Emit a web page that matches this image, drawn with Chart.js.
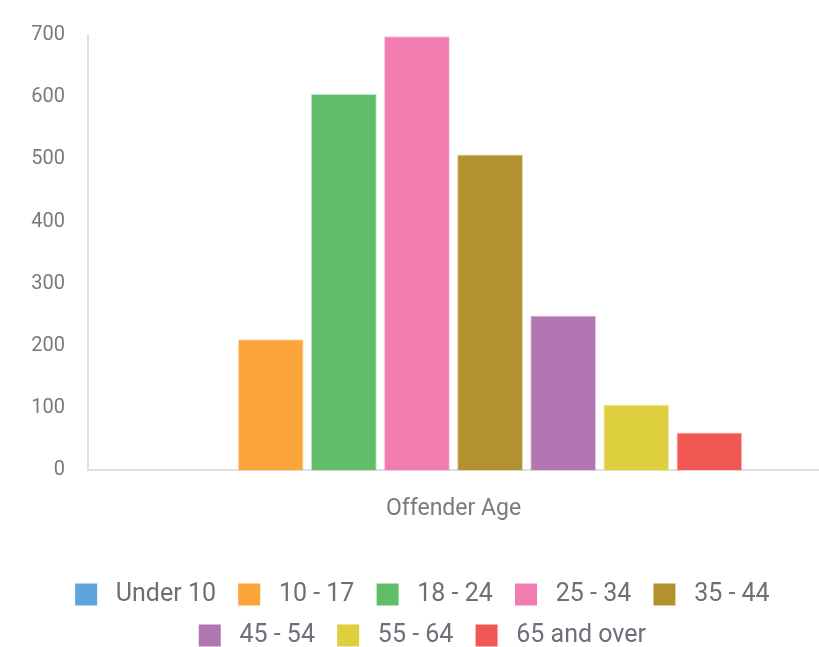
<!DOCTYPE html>
<html lang="en">
<head>
  <meta charset="UTF-8">
  <title>Offender Age</title>
  <script src="https://cdn.jsdelivr.net/npm/chart.js"></script>
  <style>
    html, body { margin: 0; padding: 0; background: #fff; }
    #wrap { width: 819px; height: 647px; }
  </style>
</head>
<body>
  <div id="wrap"><canvas id="ageChart"></canvas></div>
  <script>
    const categories = ["Offender Age"];
    const ageGroups = ["Under 10", "10 - 17", "18 - 24", "25 - 34", "35 - 44", "45 - 54", "55 - 64", "65 and over"];
    const counts = [0, 211, 605, 698, 508, 249, 106, 61];
    const colors = ["#5DA5DA", "#FAA43A", "#60BD68", "#F17CB0", "#B2912F", "#B276B2", "#DECF3F", "#F15854"];
    const yTicks = [0, 100, 200, 300, 400, 500, 600, 700];

    const datasets = ageGroups.map(function (g, i) {
      return {
        label: g,
        data: [counts[i]],
        backgroundColor: colors[i],
        borderColor: colors[i] + "66",
        borderWidth: 1,
        barPercentage: 0.9,
        categoryPercentage: 0.8
      };
    });

    new Chart(document.getElementById("ageChart"), {
      type: "bar",
      data: { labels: categories, datasets: datasets },
      options: {
        responsive: true,
        maintainAspectRatio: false,
        animation: false,
        layout: { padding: { top: 35, left: 30, right: -2, bottom: -11 } },
        plugins: {
          tooltip: { enabled: false },
          legend: {
            position: "bottom",
            labels: {
              font: { family: "Roboto", size: 25 },
              color: "#6b7079",
              boxWidth: 22,
              boxHeight: 22,
              padding: 16,
              generateLabels: function (chart) {
                return Chart.defaults.plugins.legend.labels.generateLabels(chart).map(function (l) {
                  l.text = " " + l.text + " ";
                  l.lineWidth = 0;
                  return l;
                });
              }
            }
          }
        },
        scales: {
          x: {
            grid: { display: false, drawTicks: true, tickLength: 10 },
            border: { display: true, color: "#e0e0e0", width: 2 },
            ticks: { font: { family: "Roboto", size: 23 }, color: "#7a7a7a", padding: 15 },
            afterFit: function (axis) { axis.height += 28; }
          },
          y: {
            min: 0,
            max: 700,
            afterBuildTicks: function (axis) {
              axis.ticks = yTicks.map(function (v) { return { value: v }; });
            },
            grid: { display: false, drawTicks: true, tickLength: 10 },
            border: { display: true, color: "#e0e0e0", width: 2 },
            ticks: { font: { family: "Roboto", size: 20 }, color: "#7a7a7a", padding: 13 },
            afterFit: function (axis) { axis.width = 58; }
          }
        }
      }
    });
  </script>
</body>
</html>
